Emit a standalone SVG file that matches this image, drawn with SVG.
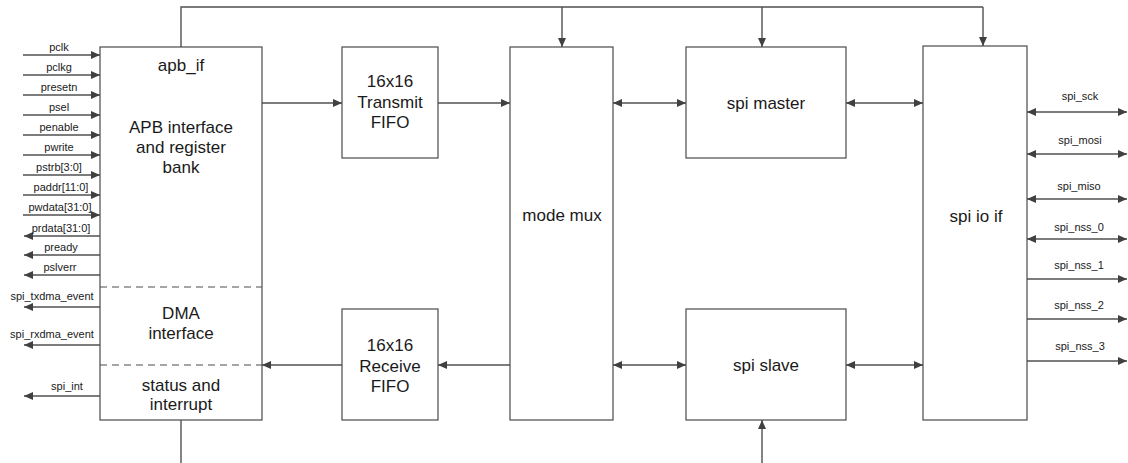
<svg xmlns="http://www.w3.org/2000/svg" width="1128" height="463" viewBox="0 0 1128 463">
<style>
.box{fill:#fff;stroke:#4a4a4a;stroke-width:1.2}
.dash{fill:none;stroke:#4a4a4a;stroke-width:1;stroke-dasharray:7,5}
.ln{fill:none;stroke:#505050;stroke-width:1.4}
.arr{marker-end:url(#ah)}
.bi{marker-end:url(#ah);marker-start:url(#ahs)}
.bt{font-family:"Liberation Sans",Arial,sans-serif;font-size:17px;fill:#1a1a1a;text-anchor:middle}
.st{font-family:"Liberation Sans",Arial,sans-serif;font-size:11px;fill:#1a1a1a;text-anchor:middle}
</style>
<defs>
<marker id="ah" markerUnits="userSpaceOnUse" markerWidth="9" markerHeight="8" refX="9" refY="4" orient="auto"><path d="M0,0 L9,4 L0,8 z" fill="#404040"/></marker>
<marker id="ahs" markerUnits="userSpaceOnUse" markerWidth="9" markerHeight="8" refX="9" refY="4" orient="auto-start-reverse"><path d="M0,0 L9,4 L0,8 z" fill="#404040"/></marker>
</defs>
<rect width="1128" height="463" fill="#fff"/>

<g id="connectors">
<!-- top bus -->
<path class="ln" d="M181,47 V7 H983"/>
<path class="ln arr" d="M562,7 V47"/>
<path class="ln arr" d="M762,7 V47"/>
<path class="ln arr" d="M983,7 V46"/>
<!-- bottom lines -->
<path class="ln" d="M181,420 V463"/>
<path class="ln arr" d="M762,463 V420"/>
<!-- data path -->
<path class="ln arr" d="M262,103 H342"/>
<path class="ln arr" d="M438,103 H510"/>
<path class="ln arr" d="M510,365 H438"/>
<path class="ln arr" d="M342,365 H262"/>
<path class="ln bi" d="M613,103 H686"/>
<path class="ln bi" d="M846,103 H923"/>
<path class="ln bi" d="M613,365 H686"/>
<path class="ln bi" d="M846,365 H923"/>
<!-- left inputs -->
<path class="ln arr" d="M23,55 H100"/>
<path class="ln arr" d="M23,75 H100"/>
<path class="ln arr" d="M23,95 H100"/>
<path class="ln arr" d="M23,115 H100"/>
<path class="ln arr" d="M23,135 H100"/>
<path class="ln arr" d="M23,155 H100"/>
<path class="ln arr" d="M23,175 H100"/>
<path class="ln arr" d="M23,195 H100"/>
<path class="ln arr" d="M23,215 H100"/>
<!-- left outputs -->
<path class="ln arr" d="M100,236 H24"/>
<path class="ln arr" d="M100,255 H24"/>
<path class="ln arr" d="M100,275 H24"/>
<path class="ln arr" d="M100,307 H24"/>
<path class="ln arr" d="M100,345 H24"/>
<path class="ln arr" d="M100,396 H24"/>
<!-- right side -->
<path class="ln bi" d="M1027,112 H1127"/>
<path class="ln bi" d="M1027,154 H1127"/>
<path class="ln bi" d="M1027,199 H1127"/>
<path class="ln bi" d="M1027,239 H1127"/>
<path class="ln arr" d="M1027,279 H1127"/>
<path class="ln arr" d="M1027,319 H1127"/>
<path class="ln arr" d="M1027,361 H1127"/>
</g>

<g id="signal-labels">
<text class="st" x="59" y="51">pclk</text>
<text class="st" x="59" y="71">pclkg</text>
<text class="st" x="59" y="91">presetn</text>
<text class="st" x="59" y="111">psel</text>
<text class="st" x="59" y="131">penable</text>
<text class="st" x="59" y="151">pwrite</text>
<text class="st" x="59" y="171">pstrb[3:0]</text>
<text class="st" x="61" y="191">paddr[11:0]</text>
<text class="st" x="60" y="211">pwdata[31:0]</text>
<text class="st" x="61" y="232">prdata[31:0]</text>
<text class="st" x="61" y="251">pready</text>
<text class="st" x="60" y="271">pslverr</text>
<text class="st" x="52" y="300">spi_txdma_event</text>
<text class="st" x="52" y="338">spi_rxdma_event</text>
<text class="st" x="67" y="390">spi_int</text>
<text class="st" x="1080" y="100">spi_sck</text>
<text class="st" x="1080" y="144">spi_mosi</text>
<text class="st" x="1079" y="190">spi_miso</text>
<text class="st" x="1079" y="231">spi_nss_0</text>
<text class="st" x="1079" y="269">spi_nss_1</text>
<text class="st" x="1079" y="309">spi_nss_2</text>
<text class="st" x="1080" y="350">spi_nss_3</text>
</g>

<g id="apb_if">
<rect class="box" x="100" y="47" width="162" height="373"/>
<line class="dash" x1="100" y1="287" x2="262" y2="287"/>
<line class="dash" x1="100" y1="365" x2="262" y2="365"/>
<text class="bt" x="181" y="71">apb_if</text>
<text class="bt" x="181" y="133">APB interface</text>
<text class="bt" x="181" y="153">and register</text>
<text class="bt" x="181" y="173">bank</text>
<text class="bt" x="181" y="319">DMA</text>
<text class="bt" x="181" y="339">interface</text>
<text class="bt" x="181" y="391">status and</text>
<text class="bt" x="181" y="410">interrupt</text>
</g>

<g id="tx_fifo">
<rect class="box" x="342" y="47" width="96" height="111"/>
<text class="bt" x="390" y="87">16x16</text>
<text class="bt" x="390" y="108">Transmit</text>
<text class="bt" x="390" y="128">FIFO</text>
</g>

<g id="rx_fifo">
<rect class="box" x="342" y="309" width="96" height="111"/>
<text class="bt" x="390" y="351">16x16</text>
<text class="bt" x="390" y="372">Receive</text>
<text class="bt" x="390" y="392">FIFO</text>
</g>

<g id="mode_mux">
<rect class="box" x="510" y="47" width="103" height="373"/>
<text class="bt" x="562" y="221">mode mux</text>
</g>

<g id="spi_master">
<rect class="box" x="686" y="47" width="160" height="111"/>
<text class="bt" x="766" y="109">spi master</text>
</g>

<g id="spi_slave">
<rect class="box" x="686" y="309" width="160" height="111"/>
<text class="bt" x="766" y="371">spi slave</text>
</g>

<g id="spi_io_if">
<rect class="box" x="923" y="46" width="104" height="374"/>
<text class="bt" x="976" y="222">spi io if</text>
</g>
</svg>
